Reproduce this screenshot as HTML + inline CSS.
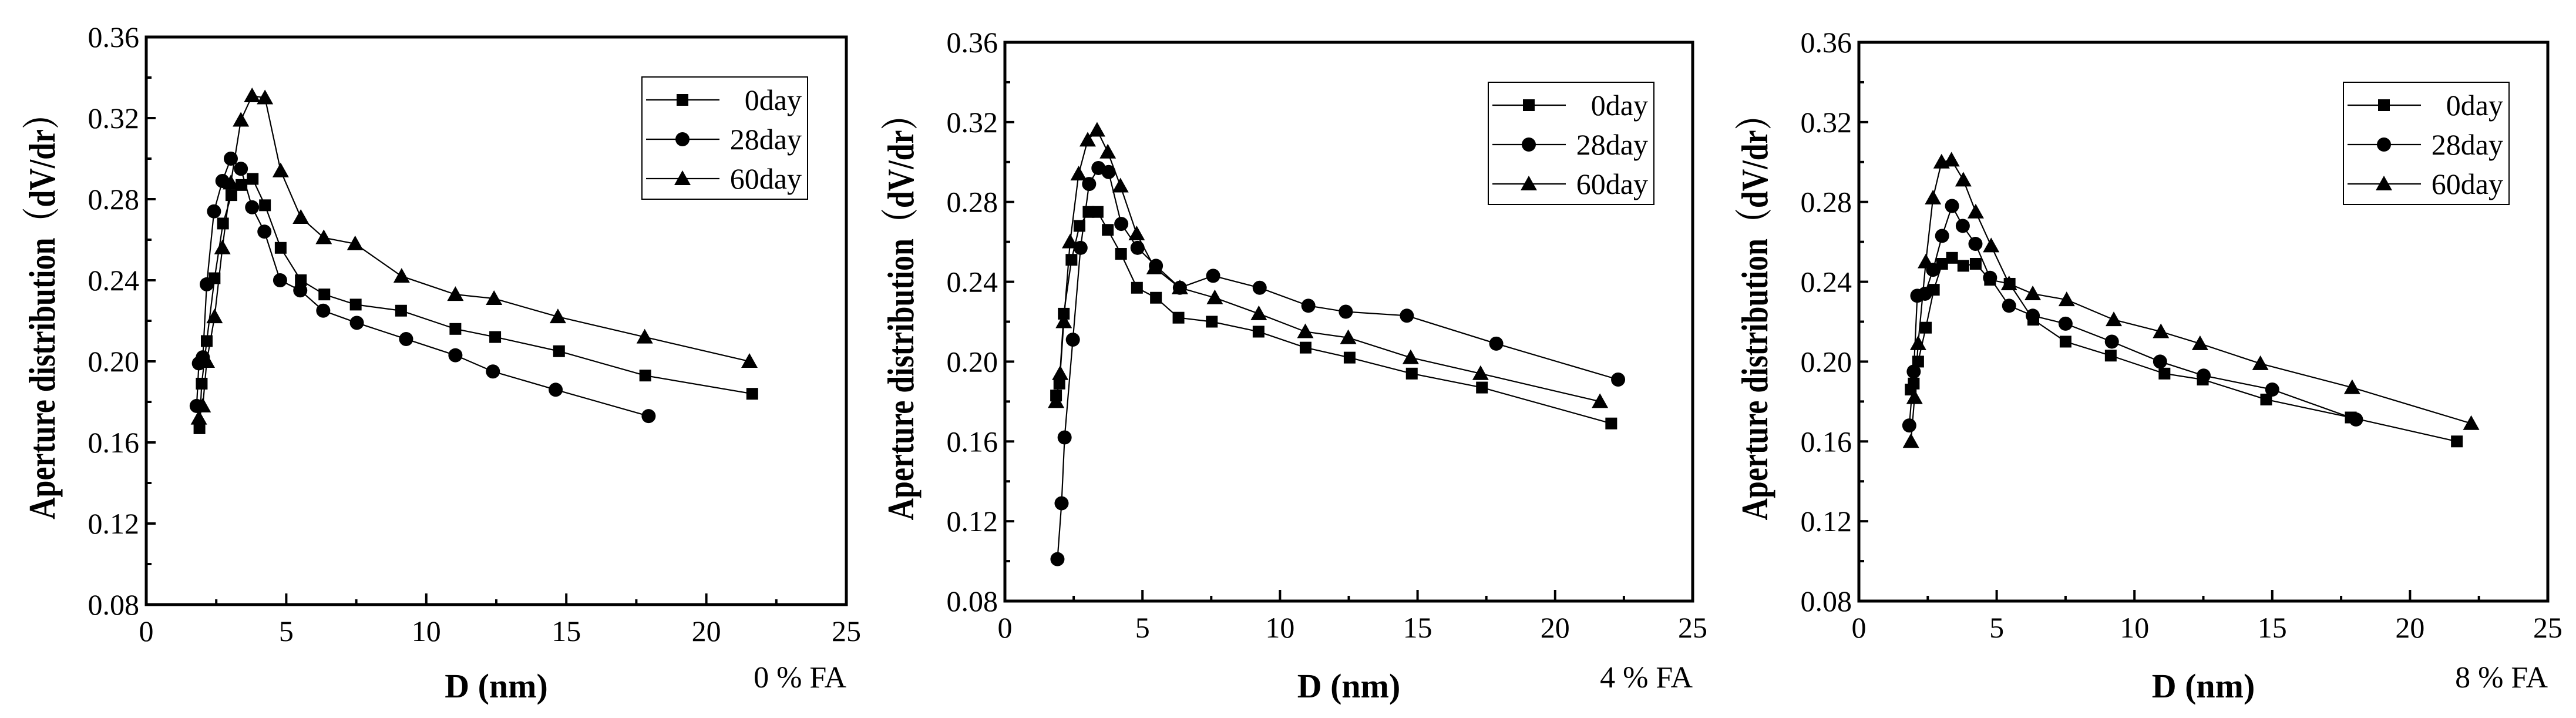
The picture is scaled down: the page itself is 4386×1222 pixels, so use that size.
<!DOCTYPE html>
<html><head><meta charset="utf-8"><title>Aperture distribution</title>
<style>
html,body{margin:0;padding:0;background:#fff;}
svg{display:block;}
svg text{font-family:"Liberation Serif","Noto Serif CJK SC",serif !important;fill:#000;}
</style></head>
<body>
<svg id="chart" width="4386" height="1222" viewBox="0 0 4386 1222" xmlns="http://www.w3.org/2000/svg" font-family="Liberation Serif, serif"></svg>
<script>
// ---- data ----
const panelLabels = ["0 % FA", "4 % FA", "8 % FA"];
const seriesNames = ["0day", "28day", "60day"];
const xTicks = [0, 5, 10, 15, 20, 25];
const yTicks = [0.08, 0.12, 0.16, 0.20, 0.24, 0.28, 0.32, 0.36];
const yTickLabels = ["0.08", "0.12", "0.16", "0.20", "0.24", "0.28", "0.32", "0.36"];

// Panel 1 (0 % FA)
const p1_0day_x = [1.9,1.98,2.16,2.44,2.74,3.04,3.4,3.8,4.24,4.8,5.52,6.36,7.48,9.1,11.04,12.46,14.74,17.82,21.64];
const p1_0day_y = [0.167,0.189,0.210,0.241,0.268,0.282,0.287,0.290,0.277,0.256,0.240,0.233,0.228,0.225,0.216,0.212,0.205,0.193,0.184];
const p1_28day_x = [1.8,1.88,2.02,2.16,2.42,2.72,3.02,3.38,3.78,4.22,4.78,5.5,6.32,7.52,9.28,11.04,12.38,14.62,17.94];
const p1_28day_y = [0.178,0.199,0.202,0.238,0.274,0.289,0.300,0.295,0.276,0.264,0.240,0.235,0.225,0.219,0.211,0.203,0.195,0.186,0.173];
const p1_60day_x = [1.88,2.02,2.16,2.44,2.72,3.02,3.38,3.78,4.24,4.8,5.52,6.34,7.46,9.12,11.04,12.42,14.7,17.8,21.54];
const p1_60day_y = [0.172,0.178,0.200,0.222,0.256,0.288,0.319,0.331,0.330,0.294,0.271,0.261,0.258,0.242,0.233,0.231,0.222,0.212,0.200];

// Panel 2 (4 % FA)
const p2_0day_x = [1.86,1.98,2.14,2.42,2.71,3.04,3.37,3.74,4.22,4.8,5.49,6.31,7.52,9.22,10.93,12.53,14.79,17.34,22.04];
const p2_0day_y = [0.183,0.189,0.224,0.251,0.268,0.275,0.275,0.266,0.254,0.237,0.232,0.222,0.220,0.215,0.207,0.202,0.194,0.187,0.169];
const p2_28day_x = [1.91,2.06,2.17,2.47,2.75,3.06,3.4,3.77,4.23,4.82,5.49,6.36,7.57,9.26,11.03,12.39,14.61,17.86,22.29];
const p2_28day_y = [0.101,0.129,0.162,0.211,0.257,0.289,0.297,0.295,0.269,0.257,0.248,0.237,0.243,0.237,0.228,0.225,0.223,0.209,0.191];
const p2_60day_x = [1.86,2.01,2.14,2.37,2.68,3.01,3.35,3.74,4.2,4.79,5.44,6.36,7.63,9.23,10.92,12.48,14.75,17.29,21.63];
const p2_60day_y = [0.180,0.194,0.220,0.260,0.294,0.311,0.316,0.305,0.288,0.264,0.247,0.237,0.232,0.224,0.215,0.212,0.202,0.194,0.180];

// Panel 3 (8 % FA)
const p3_0day_x = [1.88,1.99,2.15,2.43,2.72,3.02,3.38,3.79,4.24,4.76,5.47,6.33,7.5,9.14,11.09,12.48,14.78,17.85,21.7];
const p3_0day_y = [0.186,0.189,0.200,0.217,0.236,0.249,0.252,0.248,0.249,0.241,0.239,0.221,0.210,0.203,0.194,0.191,0.181,0.172,0.160];
const p3_28day_x = [1.83,1.99,2.12,2.4,2.69,3.02,3.38,3.77,4.23,4.76,5.45,6.31,7.5,9.18,10.93,12.51,15.0,18.04];
const p3_28day_y = [0.168,0.195,0.233,0.234,0.246,0.263,0.278,0.268,0.259,0.242,0.228,0.223,0.219,0.210,0.200,0.193,0.186,0.171];
const p3_60day_x = [1.89,2.02,2.15,2.43,2.69,3.0,3.36,3.79,4.24,4.8,5.45,6.31,7.54,9.25,10.96,12.38,14.57,17.9,22.22];
const p3_60day_y = [0.160,0.182,0.209,0.250,0.282,0.300,0.301,0.291,0.275,0.258,0.239,0.234,0.231,0.221,0.215,0.209,0.199,0.187,0.169];

const panelData = [
  [[p1_0day_x,p1_0day_y],[p1_28day_x,p1_28day_y],[p1_60day_x,p1_60day_y]],
  [[p2_0day_x,p2_0day_y],[p2_28day_x,p2_28day_y],[p2_60day_x,p2_60day_y]],
  [[p3_0day_x,p3_0day_y],[p3_28day_x,p3_28day_y],[p3_60day_x,p3_60day_y]]
];

// ---- layout ----
const NS = "http://www.w3.org/2000/svg";
const svg = document.getElementById("chart");
const panelBoxes = [
  {l:249, r:1441, t:63, b:1029},
  {l:1711, r:2882, t:72, b:1023},
  {l:3165, r:4338, t:72, b:1023}
];
const xMin = 0, xMax = 25, yMin = 0.08, yMax = 0.36;
const SERIF = "'Liberation Serif', 'Noto Serif CJK SC', serif";

function mk(tag, attrs, parent){
  const e = document.createElementNS(NS, tag);
  for (const k in attrs) e.setAttribute(k, attrs[k]);
  if (tag === "text") e.setAttribute("font-family", SERIF);
  (parent || svg).appendChild(e);
  return e;
}

function marker(g, type, cx, cy){
  let m;
  if (type === 0) {
    m = mk("rect", {x:cx-10, y:cy-10, width:20, height:20, fill:"#000"}, g);
  } else if (type === 1) {
    m = mk("circle", {cx:cx, cy:cy, r:12, fill:"#000"}, g);
  } else {
    m = mk("polygon", {points:(cx)+","+(cy-14)+" "+(cx-14)+","+(cy+11)+" "+(cx+14)+","+(cy+11), fill:"#000"}, g);
  }
  return m;
}

panelBoxes.forEach((P, pi) => {
  const sx = v => P.l + (v - xMin) / (xMax - xMin) * (P.r - P.l);
  const sy = v => P.b - (v - yMin) / (yMax - yMin) * (P.b - P.t);

  const g = mk("g", {});
  
  

  for (let k = 0; k <= 14; k++) {
    const v = yMin + k * 0.02;
    const y = sy(v);
    const len = (k % 2 === 0) ? 16 : 9;
    const t = mk("line", {x1:P.l, x2:P.l + len, y1:y, y2:y, stroke:"#000", "stroke-width":4}, g);
    
    
  }
  yTicks.forEach((v, i) => {
    const t = mk("text", {x:P.l - 12, y:sy(v) + 17, "text-anchor":"end", "font-size":50}, g);
    t.textContent = yTickLabels[i];
    
    
  });
  for (let k = 0; k <= 10; k++) {
    const v = xMin + k * 2.5;
    const x = sx(v);
    const len = (k % 2 === 0) ? 19 : 9;
    const t = mk("line", {x1:x, x2:x, y1:P.b, y2:P.b - len, stroke:"#000", "stroke-width":4}, g);
    
    
  }
  xTicks.forEach(v => {
    const t = mk("text", {x:sx(v), y:P.b + 62, "text-anchor":"middle", "font-size":50}, g);
    t.textContent = String(v);
    
    
  });

  panelData[pi].forEach((s, si) => {
    const xs = s[0], ys = s[1];
    const sg = mk("g", {}, g);
    
    
    const pts = xs.map((x, i) => sx(x) + "," + sy(ys[i])).join(" ");
    const pl = mk("polyline", {points:pts, fill:"none", stroke:"#000", "stroke-width":2.2}, sg);
    
    
    xs.forEach((x, i) => {
      const m = marker(sg, si, sx(x), sy(ys[i]));
      
      
    });
  });

  const fr = mk("rect", {x:P.l, y:P.t, width:P.r - P.l, height:P.b - P.t, fill:"none", stroke:"#000", "stroke-width":5}, g);
  
  

  const lw = 282, lh = 208;
  const lx = P.r - 66 - lw, ly = P.t + 68;
  const lg = mk("g", {}, g);
  
  
  mk("rect", {x:lx, y:ly, width:lw, height:lh, fill:"#fff", stroke:"#000", "stroke-width":2}, lg);
  seriesNames.forEach((n, si) => {
    const ry = ly + 39 + si * 67;
    const eg = mk("g", {}, lg);
    
    
    mk("line", {x1:lx + 7, x2:lx + 132, y1:ry, y2:ry, stroke:"#000", "stroke-width":2.2}, eg);
    marker(eg, si, lx + 69, ry);
    const t = mk("text", {x:lx + lw - 10, y:ry + 17, "text-anchor":"end", "font-size":50}, eg);
    t.textContent = n;
  });

  const xt = mk("text", {x:(P.l + P.r) / 2, y:1187, "text-anchor":"middle", "font-size":58, "font-weight":"bold"}, g);
  xt.textContent = "D (nm)";
  
  

  const cy = (P.t + P.b) / 2 - 20, cx = P.l - 174 + 18;
  const yt = mk("text", {x:cx, y:cy, "text-anchor":"middle", "font-size":64, "font-weight":"bold",
    transform:"rotate(-90 " + cx + " " + cy + ")", textLength:716, lengthAdjust:"spacingAndGlyphs"}, g);
  yt.textContent = "Aperture distribution（dV/dr）";
  
  

  const pl = mk("text", {x:P.r, y:1170, "text-anchor":"end", "font-size":52}, g);
  pl.textContent = panelLabels[pi];
  
  
});
</script>
</body></html>
